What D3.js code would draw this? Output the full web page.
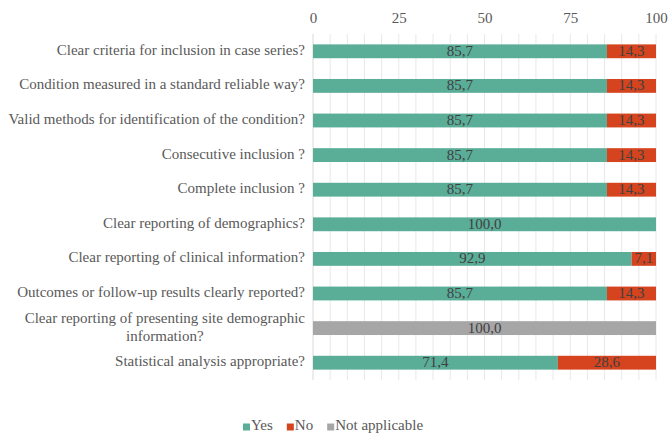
<!DOCTYPE html>
<html>
<head>
<meta charset="utf-8">
<script src="https://cdn.jsdelivr.net/npm/d3@7"></script>
<style>
  body { margin: 0; background: #fff; }
</style>
</head>
<body>
<div id="chart"></div>
<script>
// Data
const categories = [
    'Clear criteria for inclusion in case series?',
    'Condition measured in a standard reliable way?',
    'Valid methods for identification of the condition?',
    'Consecutive inclusion ?',
    'Complete inclusion ?',
    'Clear reporting of demographics?',
    'Clear reporting of clinical information?',
    'Outcomes or follow-up results clearly reported?',
    'Clear reporting of presenting site demographic|information?',
    'Statistical analysis appropriate?'
];
const yesValues = [85.7, 85.7, 85.7, 85.7, 85.7, 100.0, 92.9, 85.7, 0, 71.4];
const noValues = [14.3, 14.3, 14.3, 14.3, 14.3, 0, 7.1, 14.3, 0, 28.6];
const naValues = [0, 0, 0, 0, 0, 0, 0, 0, 100.0, 0];
const seriesNames = ['Yes', 'No', 'Not applicable'];
const seriesColors = ['#5aae98', '#d5441f', '#a6a6a6'];
const xTicks = [0, 25, 50, 75, 100];

const FONT = "'Liberation Serif', 'Times New Roman', Times, 'DejaVu Serif', serif";

const width = 669, height = 435;
const margin = { top: 34, right: 13, bottom: 55, left: 313 };
const chartWidth = width - margin.left - margin.right;
const chartHeight = height - margin.top - margin.bottom;

const svg = d3.select('#chart').append('svg')
    .attr('width', width)
    .attr('height', height)
    .attr('font-family', FONT)
    .style('display', 'block');

const g = svg.append('g')
    .attr('transform', `translate(${margin.left},${margin.top})`);

const xScale = d3.scaleLinear().domain([0, 100]).range([0, chartWidth]);
const yScale = d3.scaleBand()
    .domain(categories)
    .range([0, chartHeight])
    .paddingInner(0.6)
    .paddingOuter(0.3);

// grid every 5
g.append('g')
    .selectAll('line')
    .data(d3.range(5, 101, 5))
    .enter()
    .append('line')
    .attr('x1', d => xScale(d)).attr('x2', d => xScale(d))
    .attr('y1', 0).attr('y2', chartHeight)
    .style('stroke', '#e8e8e8')
    .style('stroke-width', 1);

g.append('line')
    .attr('x1', 0).attr('x2', 0)
    .attr('y1', 0).attr('y2', chartHeight)
    .style('stroke', '#d9d9d9');

// top axis
const xAxis = d3.axisTop(xScale).tickValues(xTicks).tickSize(0).tickPadding(11);
const axisG = g.append('g').call(xAxis).attr('font-family', FONT).attr('font-size', 15);
axisG.select('.domain').remove();
axisG.selectAll('text')
    .attr('font-family', FONT)
    .style('fill', '#595959');

// stacked bars
const rows = categories.map((c, i) => ({ cat: c, vals: [yesValues[i], noValues[i], naValues[i]] }));
rows.forEach(row => {
    let acc = 0;
    row.vals.forEach((v, k) => {
        if (v <= 0) return;
        const x0 = xScale(acc);
        const x1 = xScale(acc + v);
        g.append('rect')
            .attr('x', x0)
            .attr('y', yScale(row.cat))
            .attr('width', x1 - x0)
            .attr('height', yScale.bandwidth())
            .attr('fill', seriesColors[k]);
        g.append('text')
            .attr('x', (x0 + x1) / 2)
            .attr('y', yScale(row.cat) + yScale.bandwidth() / 2 + 1)
            .attr('text-anchor', 'middle')
            .attr('dominant-baseline', 'middle')
            .attr('font-family', FONT)
            .style('font-size', '15px')
            .style('fill', '#404040')
            .text(v.toFixed(1).replace('.', ','));
        acc += v;
    });
});

// category labels
categories.forEach(c => {
    const lines = c.split('|');
    const cy = yScale(c) + yScale.bandwidth() / 2;
    if (lines.length === 1) {
        g.append('text')
            .attr('x', -8)
            .attr('y', cy)
            .attr('text-anchor', 'end')
            .attr('dominant-baseline', 'middle')
            .attr('font-family', FONT)
            .style('font-size', '15px')
            .style('fill', '#595959')
            .text(c);
    } else {
        const t = g.append('text')
            .attr('text-anchor', 'middle')
            .attr('font-family', FONT)
            .style('font-size', '15px')
            .style('fill', '#595959');
        const l1 = t.append('tspan').attr('x', 0).attr('y', cy - 9).attr('dominant-baseline', 'middle').text(lines[0]);
        const w = l1.node().getComputedTextLength();
        const centerX = -8 - w / 2;
        t.selectAll('tspan').attr('x', centerX);
        t.append('tspan').attr('x', centerX).attr('y', cy + 9).attr('dominant-baseline', 'middle').text(lines[1]);
    }
});

// legend
const legend = svg.append('g').attr('transform', 'translate(0,427)');
let lx = 243;
seriesNames.forEach((name, k) => {
    legend.append('rect')
        .attr('x', lx).attr('y', -3.5)
        .attr('width', 7).attr('height', 7)
        .attr('fill', seriesColors[k]);
    const t = legend.append('text')
        .attr('x', lx + 8)
        .attr('y', 0)
        .attr('dominant-baseline', 'middle')
        .attr('font-family', FONT)
        .style('font-size', '15px')
        .style('fill', '#595959')
        .text(name);
    lx += 8 + t.node().getComputedTextLength() + 14;
});
</script>
</body>
</html>
